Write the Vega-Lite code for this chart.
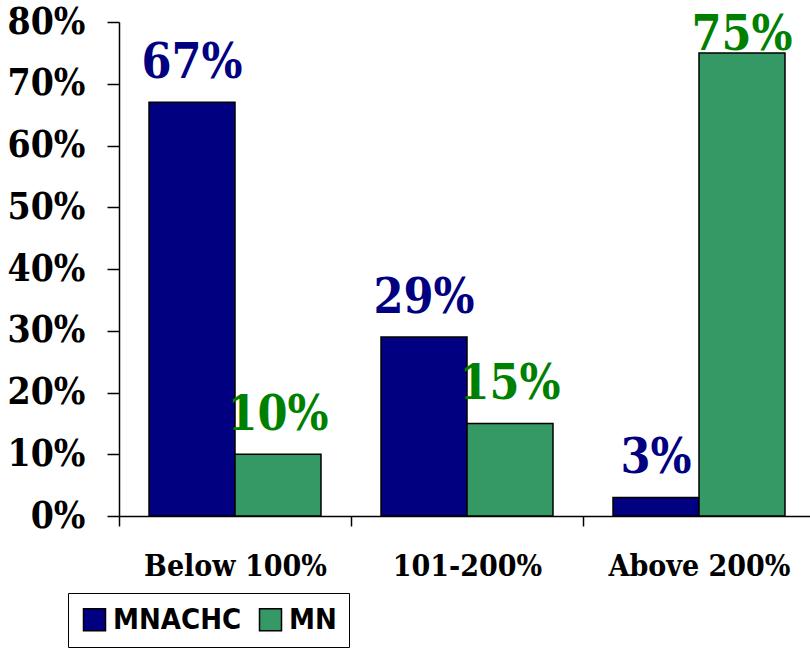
{
  "$schema": "https://vega.github.io/schema/vega-lite/v6.json",
  "width": 696,
  "height": 494,
  "autosize": {"type": "none"},
  "padding": {"left": 119, "top": 22, "right": 0, "bottom": 135},
  "background": "white",
  "config": {
    "view": {"stroke": null},
    "axis": {"grid": false, "domainColor": "black", "domainWidth": 1.5, "tickColor": "black", "tickWidth": 1.5, "labelColor": "black", "labelFont": "DejaVu Serif Condensed", "labelFontWeight": "bold", "title": null, "labelLimit": 0}
  },
  "data": {
    "values": [
      {"cat": "Below 100%", "series": "MNACHC", "value": 0.67},
      {"cat": "Below 100%", "series": "MN", "value": 0.10},
      {"cat": "101-200%", "series": "MNACHC", "value": 0.29},
      {"cat": "101-200%", "series": "MN", "value": 0.15},
      {"cat": "Above 200%", "series": "MNACHC", "value": 0.03},
      {"cat": "Above 200%", "series": "MN", "value": 0.75}
    ]
  },
  "transform": [{"calculate": "min(datum.value, 0.716)", "as": "labelPos"}],
  "encoding": {
    "x": {
      "field": "cat", "type": "nominal",
      "sort": ["Below 100%", "101-200%", "Above 200%"],
      "scale": {"paddingInner": 0, "paddingOuter": 0},
      "axis": {"labelAngle": 0, "labelFontSize": 30, "tickBand": "extent", "tickSize": 10, "labelPadding": 25, "labelOverlap": false}
    },
    "xOffset": {
      "field": "series", "type": "nominal", "sort": ["MNACHC", "MN"],
      "scale": {"paddingInner": 0, "paddingOuter": 0.349}
    }
  },
  "layer": [
    {
      "mark": {"type": "bar", "stroke": "black", "strokeWidth": 1.5},
      "encoding": {
        "y": {
          "field": "value", "type": "quantitative",
          "scale": {"domain": [0, 0.8]},
          "axis": {"values": [0, 0.1, 0.2, 0.3, 0.4, 0.5, 0.6, 0.7, 0.8], "format": ".0%", "labelFontSize": 37, "tickSize": 12, "labelPadding": 22}
        },
        "color": {
          "field": "series", "type": "nominal",
          "scale": {"domain": ["MNACHC", "MN"], "range": ["#000080", "#359966"]},
          "legend": {
            "title": null, "orient": "none", "direction": "horizontal",
            "legendX": -51, "legendY": 571,
            "strokeColor": "black", "padding": 12,
            "symbolType": "square", "symbolSize": 484, "symbolStrokeColor": "black", "symbolStrokeWidth": 1.5, "symbolOpacity": 1,
            "labelFont": "DejaVu Sans Condensed", "labelFontWeight": "bold", "labelFontSize": 29, "labelColor": "black",
            "labelOffset": 4, "columnPadding": 14
          }
        }
      }
    },
    {
      "mark": {"type": "text", "baseline": "alphabetic", "dy": -24, "font": "DejaVu Serif Condensed", "fontWeight": "bold", "fontSize": 48},
      "encoding": {
        "y": {"field": "labelPos", "type": "quantitative"},
        "text": {"field": "value", "type": "quantitative", "format": ".0%"},
        "color": {"condition": {"test": "datum.series === 'MN'", "value": "#008000"}, "value": "#000080"}
      }
    }
  ]
}
